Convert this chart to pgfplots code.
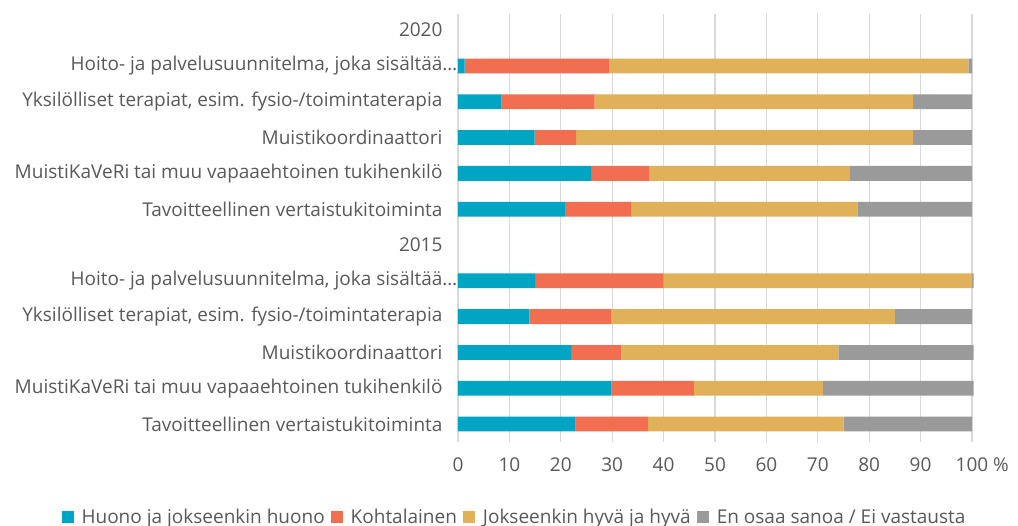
\documentclass[border=0pt]{standalone}
\usepackage{pgfplots}
\pgfplotsset{compat=1.18}
\usepackage{fontspec}
\setmainfont{Open Sans}
\definecolor{cblue}{RGB}{0,165,196}
\definecolor{cred}{RGB}{242,110,80}
\definecolor{cyel}{RGB}{225,177,90}
\definecolor{cgray}{RGB}{154,154,154}
\definecolor{tgray}{RGB}{89,89,89}
\definecolor{ggray}{RGB}{217,217,217}
\begin{document}
\begin{tikzpicture}[x=1pt,y=1pt]
\path[use as bounding box] (0,0) rectangle (1018,526);
\begin{axis}[
  at={(458pt,84pt)}, anchor=south west,
  scale only axis, width=514pt, height=428pt,
  xbar stacked, bar width=14.8pt,
  xmin=0, xmax=100, ymin=-0.5, ymax=11.45,
  clip=false,
  axis line style={draw=none},
  major tick length=0pt,
  xmajorgrids, grid style={ggray, line width=1.3pt},
  xtick={0,10,...,100},
  xticklabels={0,10,20,30,40,50,60,70,80,90,100\rlap{ \%}},
  ytick={0,...,11},
  yticklabels={
    Tavoitteellinen vertaistukitoiminta,
    MuistiKaVeRi tai muu vapaaehtoinen tukihenkilö,
    Muistikoordinaattori,
    {Yksilölliset terapiat, esim. fysio-/toimintaterapia},
    {Hoito- ja palvelusuunnitelma, joka sisältää\rlap{…}},
    2015,
    Tavoitteellinen vertaistukitoiminta,
    MuistiKaVeRi tai muu vapaaehtoinen tukihenkilö,
    Muistikoordinaattori,
    {Yksilölliset terapiat, esim. fysio-/toimintaterapia},
    {Hoito- ja palvelusuunnitelma, joka sisältää\rlap{…}},
    2020},
  tick label style={font=\fontsize{19}{22}\selectfont, text=tgray},
  yticklabel style={xshift=-12pt},
  xticklabel style={yshift=-12pt},
  legend style={at={(0.11,-0.175)}, anchor=center, draw=none,
    font=\fontsize{19}{22}\selectfont, text=tgray,
    legend columns=-1,
    /tikz/every even column/.append style={column sep=4pt},
    /tikz/every odd column/.append style={column sep=6pt}},
  legend image code/.code={\fill[#1,draw=none] (0pt,-6pt) rectangle (12pt,6pt);},
]
\addplot[fill=cblue, draw=none] coordinates {(1.3,10) (8.5,9) (14.9,8) (25.9,7) (20.8,6) (15,4) (13.9,3) (22,2) (29.9,1) (22.9,0)};
\addplot[fill=cred, draw=none] coordinates {(28.1,10) (18.1,9) (8.1,8) (11.4,7) (12.9,6) (25,4) (16,3) (9.8,2) (16,1) (14.1,0)};
\addplot[fill=cyel, draw=none] coordinates {(69.9,10) (61.9,9) (65.5,8) (39.0,7) (44.0,6) (60,4) (55.1,3) (42.2,2) (25.1,1) (38,0)};
\addplot[fill=cgray, draw=none] coordinates {(0.7,10) (11.5,9) (11.5,8) (23.7,7) (22.3,6) (0.3,4) (15,3) (26.3,2) (29.3,1) (25,0)};
\legend{Huono ja jokseenkin huono, Kohtalainen, Jokseenkin hyvä ja hyvä, En osaa sanoa / Ei vastausta}
\end{axis}
\end{tikzpicture}
\end{document}
